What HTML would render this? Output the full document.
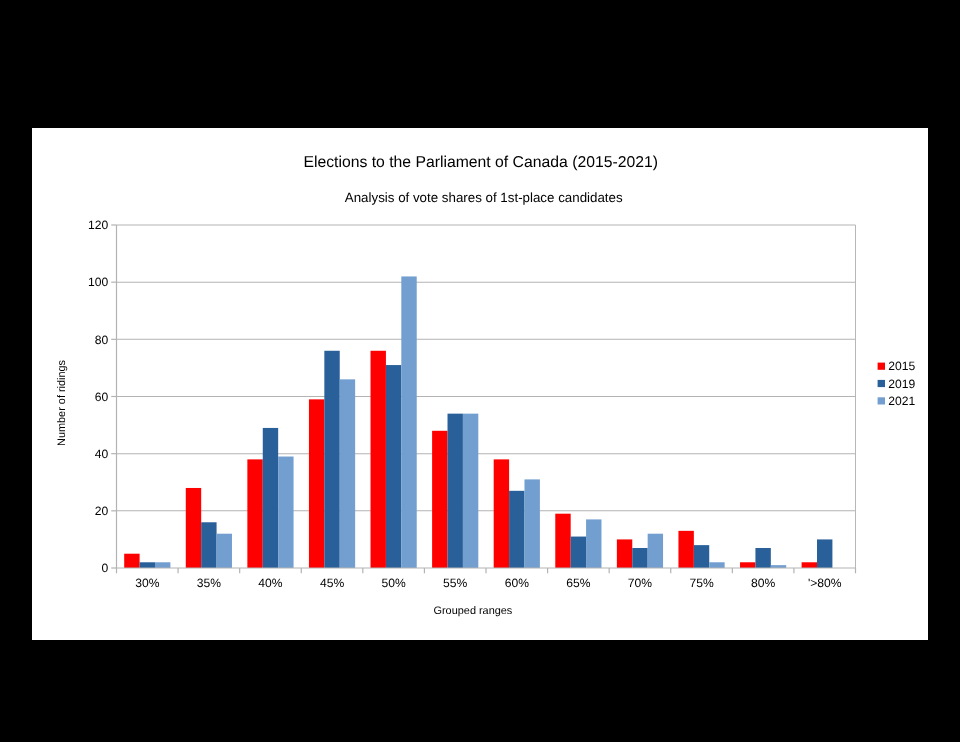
<!DOCTYPE html>
<html><head><meta charset="utf-8"><title>Chart</title>
<style>html,body{margin:0;padding:0;background:#000;}svg{display:block;will-change:transform;}text{font-family:"Liberation Sans",sans-serif;fill:#000;text-rendering:geometricPrecision;}</style></head><body>
<svg width="960" height="742" viewBox="0 0 960 742">
<rect x="0" y="0" width="960" height="742" fill="#000"/>
<rect x="32" y="128" width="896" height="512" fill="#fff"/>
<line x1="116.50" y1="510.83" x2="855.50" y2="510.83" stroke="#b3b3b3" stroke-width="1.05"/>
<line x1="116.50" y1="453.67" x2="855.50" y2="453.67" stroke="#b3b3b3" stroke-width="1.05"/>
<line x1="116.50" y1="396.50" x2="855.50" y2="396.50" stroke="#b3b3b3" stroke-width="1.05"/>
<line x1="116.50" y1="339.33" x2="855.50" y2="339.33" stroke="#b3b3b3" stroke-width="1.05"/>
<line x1="116.50" y1="282.17" x2="855.50" y2="282.17" stroke="#b3b3b3" stroke-width="1.05"/>
<line x1="116.50" y1="225.00" x2="855.50" y2="225.00" stroke="#b3b3b3" stroke-width="1.05"/>
<line x1="855.50" y1="225.00" x2="855.50" y2="568.00" stroke="#b3b3b3" stroke-width="0.95"/>
<rect x="124.20" y="553.71" width="15.40" height="14.29" fill="#ff0000"/>
<rect x="139.59" y="562.28" width="15.40" height="5.72" fill="#2a6099"/>
<rect x="154.99" y="562.28" width="15.40" height="5.72" fill="#729fcf"/>
<rect x="185.78" y="487.97" width="15.40" height="80.03" fill="#ff0000"/>
<rect x="201.18" y="522.27" width="15.40" height="45.73" fill="#2a6099"/>
<rect x="216.57" y="533.70" width="15.40" height="34.30" fill="#729fcf"/>
<rect x="247.36" y="459.38" width="15.40" height="108.62" fill="#ff0000"/>
<rect x="262.76" y="427.94" width="15.40" height="140.06" fill="#2a6099"/>
<rect x="278.16" y="456.52" width="15.40" height="111.48" fill="#729fcf"/>
<rect x="308.95" y="399.36" width="15.40" height="168.64" fill="#ff0000"/>
<rect x="324.34" y="350.77" width="15.40" height="217.23" fill="#2a6099"/>
<rect x="339.74" y="379.35" width="15.40" height="188.65" fill="#729fcf"/>
<rect x="370.53" y="350.77" width="15.40" height="217.23" fill="#ff0000"/>
<rect x="385.93" y="365.06" width="15.40" height="202.94" fill="#2a6099"/>
<rect x="401.32" y="276.45" width="15.40" height="291.55" fill="#729fcf"/>
<rect x="432.11" y="430.80" width="15.40" height="137.20" fill="#ff0000"/>
<rect x="447.51" y="413.65" width="15.40" height="154.35" fill="#2a6099"/>
<rect x="462.91" y="413.65" width="15.40" height="154.35" fill="#729fcf"/>
<rect x="493.70" y="459.38" width="15.40" height="108.62" fill="#ff0000"/>
<rect x="509.09" y="490.82" width="15.40" height="77.18" fill="#2a6099"/>
<rect x="524.49" y="479.39" width="15.40" height="88.61" fill="#729fcf"/>
<rect x="555.28" y="513.69" width="15.40" height="54.31" fill="#ff0000"/>
<rect x="570.68" y="536.56" width="15.40" height="31.44" fill="#2a6099"/>
<rect x="586.07" y="519.41" width="15.40" height="48.59" fill="#729fcf"/>
<rect x="616.86" y="539.42" width="15.40" height="28.58" fill="#ff0000"/>
<rect x="632.26" y="547.99" width="15.40" height="20.01" fill="#2a6099"/>
<rect x="647.66" y="533.70" width="15.40" height="34.30" fill="#729fcf"/>
<rect x="678.45" y="530.84" width="15.40" height="37.16" fill="#ff0000"/>
<rect x="693.84" y="545.13" width="15.40" height="22.87" fill="#2a6099"/>
<rect x="709.24" y="562.28" width="15.40" height="5.72" fill="#729fcf"/>
<rect x="740.03" y="562.28" width="15.40" height="5.72" fill="#ff0000"/>
<rect x="755.43" y="547.99" width="15.40" height="20.01" fill="#2a6099"/>
<rect x="770.82" y="565.14" width="15.40" height="2.86" fill="#729fcf"/>
<rect x="801.61" y="562.28" width="15.40" height="5.72" fill="#ff0000"/>
<rect x="817.01" y="539.42" width="15.40" height="28.58" fill="#2a6099"/>
<line x1="116.50" y1="225.00" x2="116.50" y2="568.00" stroke="#b3b3b3" stroke-width="1.2"/>
<line x1="116.50" y1="568.00" x2="855.50" y2="568.00" stroke="#b3b3b3" stroke-width="1.2"/>
<line x1="111.20" y1="568.00" x2="116.50" y2="568.00" stroke="#b3b3b3" stroke-width="1.2"/>
<line x1="111.20" y1="510.83" x2="116.50" y2="510.83" stroke="#b3b3b3" stroke-width="1.2"/>
<line x1="111.20" y1="453.67" x2="116.50" y2="453.67" stroke="#b3b3b3" stroke-width="1.2"/>
<line x1="111.20" y1="396.50" x2="116.50" y2="396.50" stroke="#b3b3b3" stroke-width="1.2"/>
<line x1="111.20" y1="339.33" x2="116.50" y2="339.33" stroke="#b3b3b3" stroke-width="1.2"/>
<line x1="111.20" y1="282.17" x2="116.50" y2="282.17" stroke="#b3b3b3" stroke-width="1.2"/>
<line x1="111.20" y1="225.00" x2="116.50" y2="225.00" stroke="#b3b3b3" stroke-width="1.2"/>
<line x1="116.50" y1="568.00" x2="116.50" y2="573.30" stroke="#b3b3b3" stroke-width="1.2"/>
<line x1="178.08" y1="568.00" x2="178.08" y2="573.30" stroke="#b3b3b3" stroke-width="1.2"/>
<line x1="239.67" y1="568.00" x2="239.67" y2="573.30" stroke="#b3b3b3" stroke-width="1.2"/>
<line x1="301.25" y1="568.00" x2="301.25" y2="573.30" stroke="#b3b3b3" stroke-width="1.2"/>
<line x1="362.83" y1="568.00" x2="362.83" y2="573.30" stroke="#b3b3b3" stroke-width="1.2"/>
<line x1="424.42" y1="568.00" x2="424.42" y2="573.30" stroke="#b3b3b3" stroke-width="1.2"/>
<line x1="486.00" y1="568.00" x2="486.00" y2="573.30" stroke="#b3b3b3" stroke-width="1.2"/>
<line x1="547.58" y1="568.00" x2="547.58" y2="573.30" stroke="#b3b3b3" stroke-width="1.2"/>
<line x1="609.17" y1="568.00" x2="609.17" y2="573.30" stroke="#b3b3b3" stroke-width="1.2"/>
<line x1="670.75" y1="568.00" x2="670.75" y2="573.30" stroke="#b3b3b3" stroke-width="1.2"/>
<line x1="732.33" y1="568.00" x2="732.33" y2="573.30" stroke="#b3b3b3" stroke-width="1.2"/>
<line x1="793.92" y1="568.00" x2="793.92" y2="573.30" stroke="#b3b3b3" stroke-width="1.2"/>
<line x1="855.50" y1="568.00" x2="855.50" y2="573.30" stroke="#b3b3b3" stroke-width="1.2"/>
<text x="108.2" y="572.20" font-size="12.12" text-anchor="end">0</text>
<text x="108.2" y="515.03" font-size="12.12" text-anchor="end">20</text>
<text x="108.2" y="457.87" font-size="12.12" text-anchor="end">40</text>
<text x="108.2" y="400.70" font-size="12.12" text-anchor="end">60</text>
<text x="108.2" y="343.53" font-size="12.12" text-anchor="end">80</text>
<text x="108.2" y="286.37" font-size="12.12" text-anchor="end">100</text>
<text x="108.2" y="229.20" font-size="12.12" text-anchor="end">120</text>
<text x="147.29" y="587.3" font-size="12.12" text-anchor="middle">30%</text>
<text x="208.88" y="587.3" font-size="12.12" text-anchor="middle">35%</text>
<text x="270.46" y="587.3" font-size="12.12" text-anchor="middle">40%</text>
<text x="332.04" y="587.3" font-size="12.12" text-anchor="middle">45%</text>
<text x="393.62" y="587.3" font-size="12.12" text-anchor="middle">50%</text>
<text x="455.21" y="587.3" font-size="12.12" text-anchor="middle">55%</text>
<text x="516.79" y="587.3" font-size="12.12" text-anchor="middle">60%</text>
<text x="578.38" y="587.3" font-size="12.12" text-anchor="middle">65%</text>
<text x="639.96" y="587.3" font-size="12.12" text-anchor="middle">70%</text>
<text x="701.54" y="587.3" font-size="12.12" text-anchor="middle">75%</text>
<text x="763.12" y="587.3" font-size="12.12" text-anchor="middle">80%</text>
<text x="824.71" y="587.3" font-size="12.12" text-anchor="middle">'&gt;80%</text>
<text x="303.4" y="167.2" font-size="15.76">Elections to the Parliament of Canada (2015-2021)</text>
<text x="344.8" y="201.5" font-size="13.33">Analysis of vote shares of 1st-place candidates</text>
<text x="433.5" y="614" font-size="10.91">Grouped ranges</text>
<text transform="translate(65,446) rotate(-90)" font-size="10.91">Number of ridings</text>
<rect x="877.6" y="362.60" width="7.4" height="7.2" fill="#ff0000"/>
<text x="888.3" y="370.20" font-size="12.12">2015</text>
<rect x="877.6" y="379.90" width="7.4" height="7.2" fill="#2a6099"/>
<text x="888.3" y="387.50" font-size="12.12">2019</text>
<rect x="877.6" y="397.30" width="7.4" height="7.2" fill="#729fcf"/>
<text x="888.3" y="404.90" font-size="12.12">2021</text>
</svg></body></html>
